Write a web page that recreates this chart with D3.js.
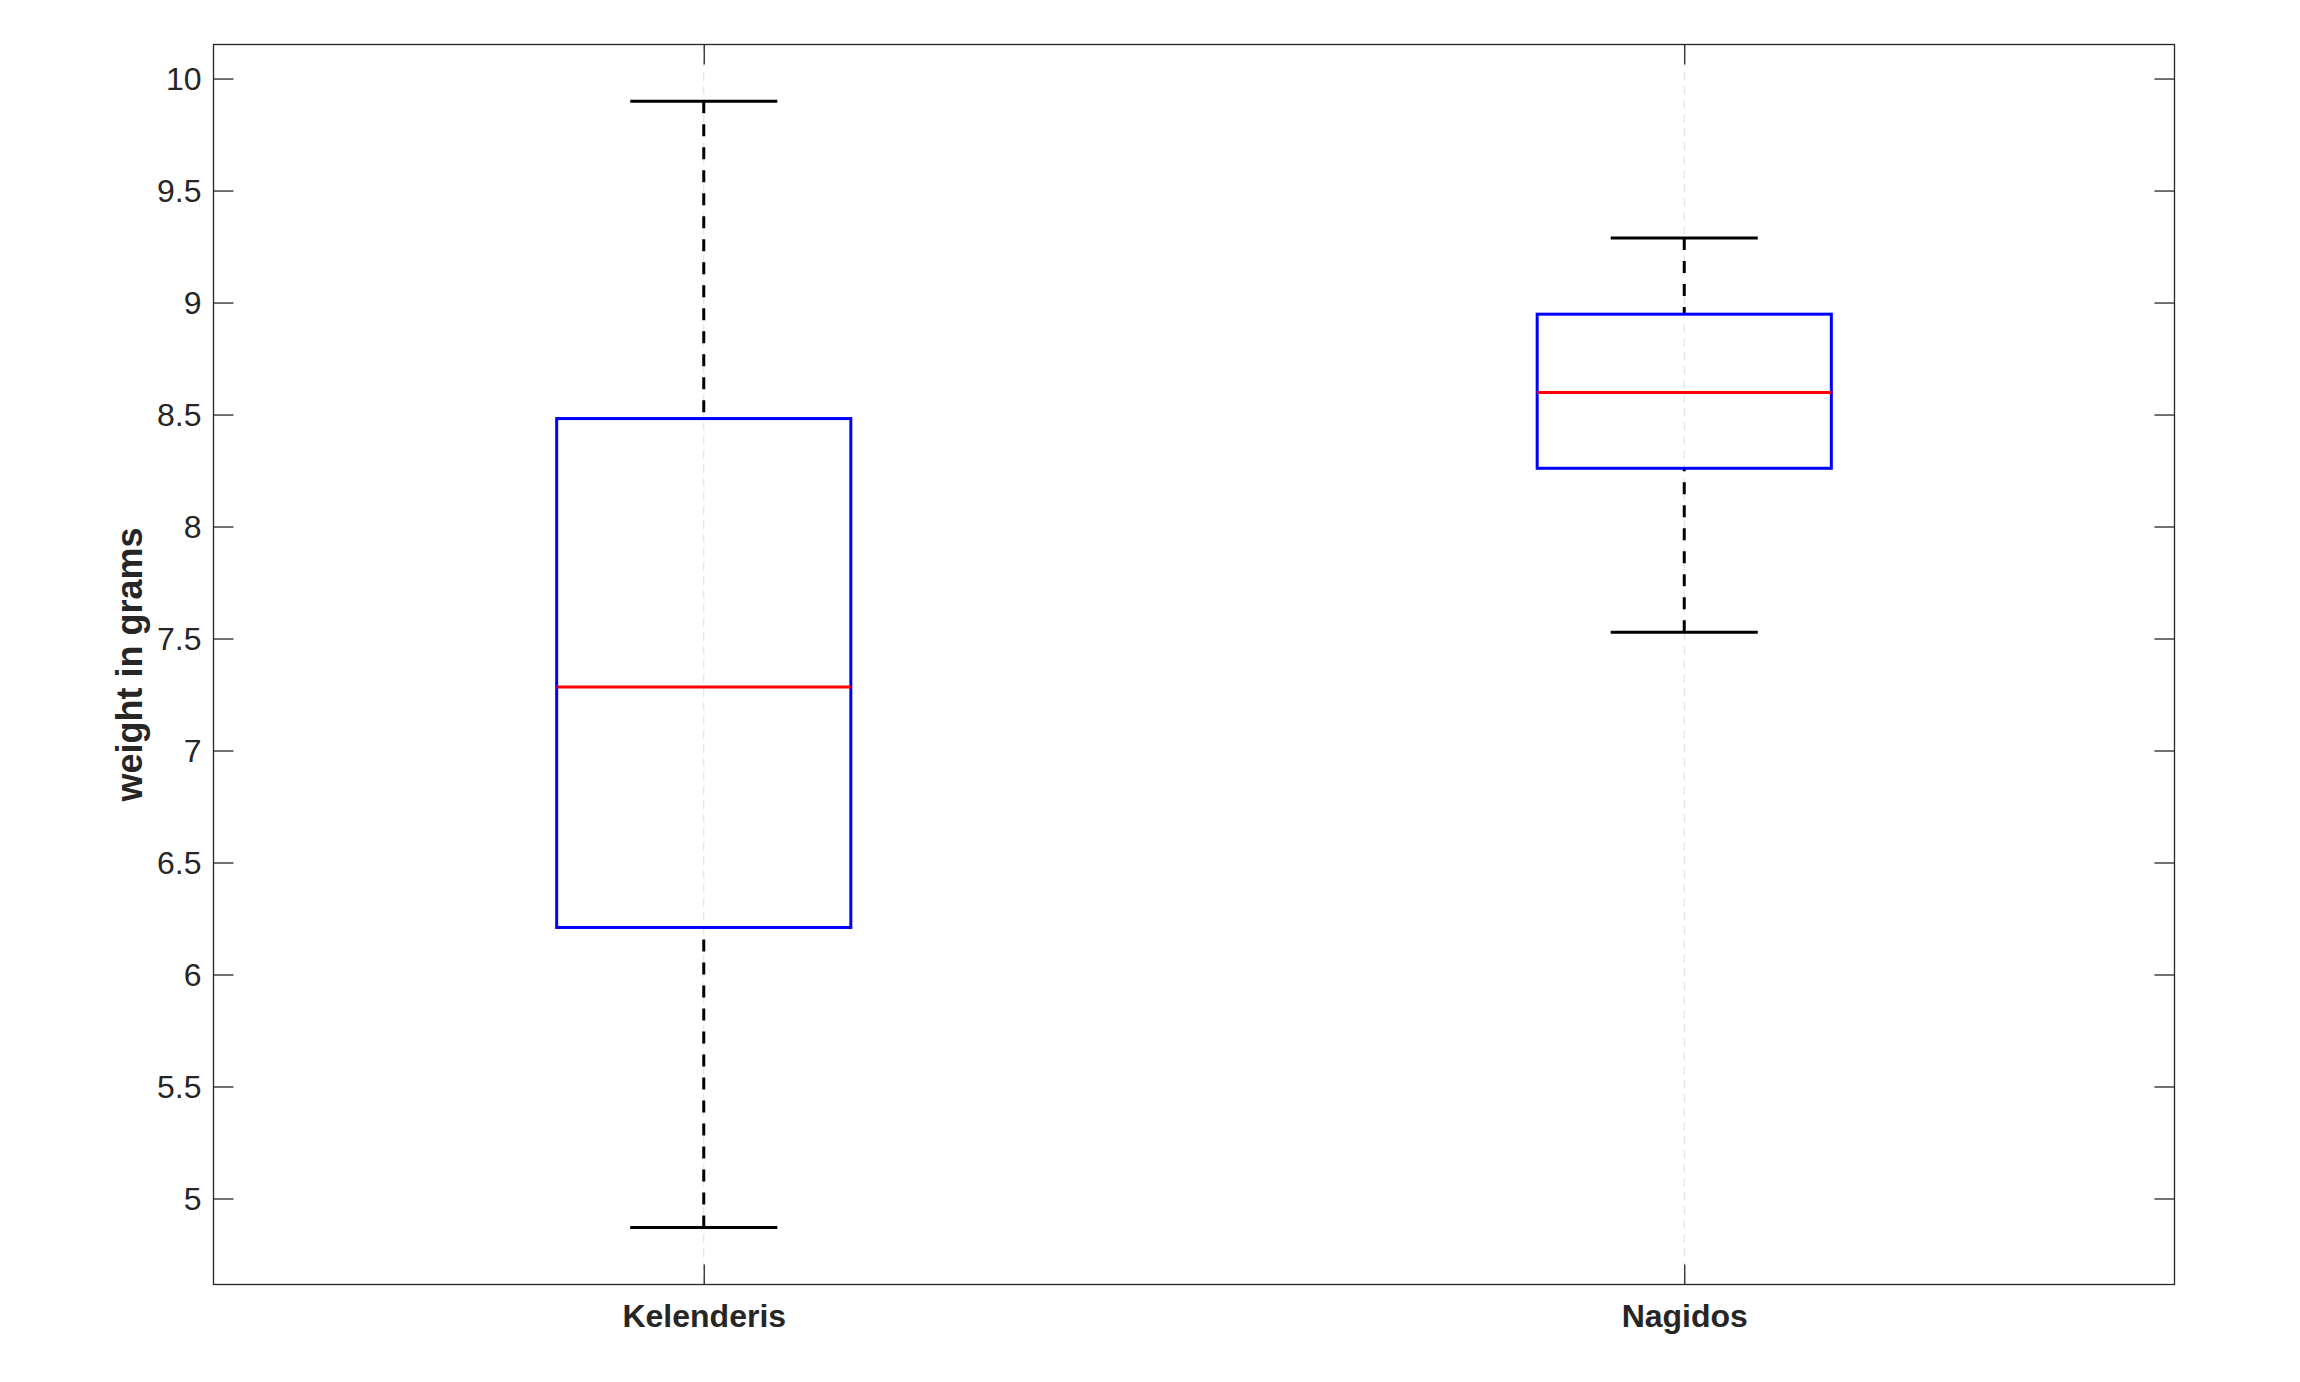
<!DOCTYPE html>
<html>
<head>
<meta charset="utf-8">
<script src="https://cdn.jsdelivr.net/npm/d3@7"></script>
<style>
  html, body { margin: 0; padding: 0; background: #fff; }
  svg { display: block; }
  text { font-family: "Liberation Sans", Arial, Helvetica, sans-serif; fill: #262626; }
</style>
</head>
<body>
<svg id="chart" width="2300" height="1382"></svg>
<script>
// ---- data ----
const categories = ["Kelenderis", "Nagidos"];
const whiskerLow  = [4.870, 7.528];
const q1          = [6.210, 8.260];
const median      = [7.284, 8.598];
const q3          = [8.482, 8.948];
const whiskerHigh = [9.899, 9.288];
const yTicks = [5, 5.5, 6, 6.5, 7, 7.5, 8, 8.5, 9, 9.5, 10];
const yTickLabels = ["5", "5.5", "6", "6.5", "7", "7.5", "8", "8.5", "9", "9.5", "10"];
const yLabel = "weight in grams";

// ---- layout ----
const mLeft = 213.5, mRight = 2174.5, mTop = 44.5, mBottom = 1284.5;
const svg = d3.select("#chart");

const x = d3.scaleLinear().domain([0.5, 2.5]).range([mLeft, mRight]);
const y = d3.scaleLinear().domain([4.616, 10.152]).range([mBottom, mTop]);
const boxW = 0.3, capW = 0.15;
const axisColor = "#262626";

// grid (x only, dashed light)
svg.append("g").selectAll("line").data(categories).join("line")
  .attr("x1", (d, i) => x(i + 1)).attr("x2", (d, i) => x(i + 1))
  .attr("y1", mTop).attr("y2", mBottom)
  .attr("stroke", "#dcdcdc").attr("stroke-width", 1)
  .attr("stroke-dasharray", "8,6");

// axes
const tickLen = 20;
const yAxisL = d3.axisLeft(y).tickValues(yTicks).tickFormat((d, i) => yTickLabels[i]).tickSizeInner(-tickLen).tickSizeOuter(0).tickPadding(12);
const yAxisR = d3.axisRight(y).tickValues(yTicks).tickFormat("").tickSizeInner(-tickLen).tickSizeOuter(0);
const xAxisB = d3.axisBottom(x).tickValues([1, 2]).tickFormat((d) => categories[d - 1]).tickSizeInner(-tickLen).tickSizeOuter(0).tickPadding(20);
const xAxisT = d3.axisTop(x).tickValues([1, 2]).tickFormat("").tickSizeInner(-tickLen).tickSizeOuter(0);

function style(g) {
  g.select(".domain").remove();
  g.selectAll(".tick line").attr("stroke", axisColor).attr("stroke-width", 1.3);
  g.selectAll(".tick text").attr("fill", axisColor).style("font-family", '"Liberation Sans", Arial, sans-serif');
}
svg.append("g").attr("transform", `translate(${mLeft},0)`).call(yAxisL).call(style)
  .selectAll(".tick text").style("font-size", "32px").attr("dy", "0.35em");
svg.append("g").attr("transform", `translate(${mRight},0)`).call(yAxisR).call(style);
svg.append("g").attr("transform", `translate(0,${mBottom})`).call(xAxisB).call(style)
  .selectAll(".tick text").style("font-size", "32px").style("font-weight", "bold").attr("dy", "0.71em");
svg.append("g").attr("transform", `translate(0,${mTop})`).call(xAxisT).call(style);

// frame
svg.append("rect").attr("x", mLeft).attr("y", mTop).attr("width", mRight - mLeft).attr("height", mBottom - mTop)
  .attr("fill", "none").attr("stroke", axisColor).attr("stroke-width", 1.3);

// boxes
const g = svg.append("g");
categories.forEach((c, i) => {
  const cx = x(i + 1);
  g.append("line").attr("x1", cx).attr("x2", cx).attr("y1", y(whiskerHigh[i])).attr("y2", y(q3[i]))
    .attr("stroke", "#000").attr("stroke-width", 3).attr("stroke-dasharray", "12,11");
  g.append("line").attr("x1", cx).attr("x2", cx).attr("y1", y(whiskerLow[i])).attr("y2", y(q1[i]))
    .attr("stroke", "#000").attr("stroke-width", 3).attr("stroke-dasharray", "12,11");
  [whiskerHigh[i], whiskerLow[i]].forEach(v => {
    g.append("line").attr("x1", x(i + 1 - capW / 2)).attr("x2", x(i + 1 + capW / 2))
      .attr("y1", y(v)).attr("y2", y(v)).attr("stroke", "#000").attr("stroke-width", 3);
  });
  g.append("rect").attr("x", x(i + 1 - boxW / 2)).attr("y", y(q3[i]))
    .attr("width", x(i + 1 + boxW / 2) - x(i + 1 - boxW / 2)).attr("height", y(q1[i]) - y(q3[i]))
    .attr("fill", "none").attr("stroke", "#0000ff").attr("stroke-width", 3);
  g.append("line").attr("x1", x(i + 1 - boxW / 2)).attr("x2", x(i + 1 + boxW / 2))
    .attr("y1", y(median[i])).attr("y2", y(median[i])).attr("stroke", "#ff0000").attr("stroke-width", 3);
});

// y label
svg.append("text")
  .attr("transform", `translate(142, ${(mTop + mBottom) / 2}) rotate(-90)`)
  .attr("text-anchor", "middle")
  .style("font-size", "36px").style("font-weight", "bold")
  .text(yLabel);
</script>
</body>
</html>
